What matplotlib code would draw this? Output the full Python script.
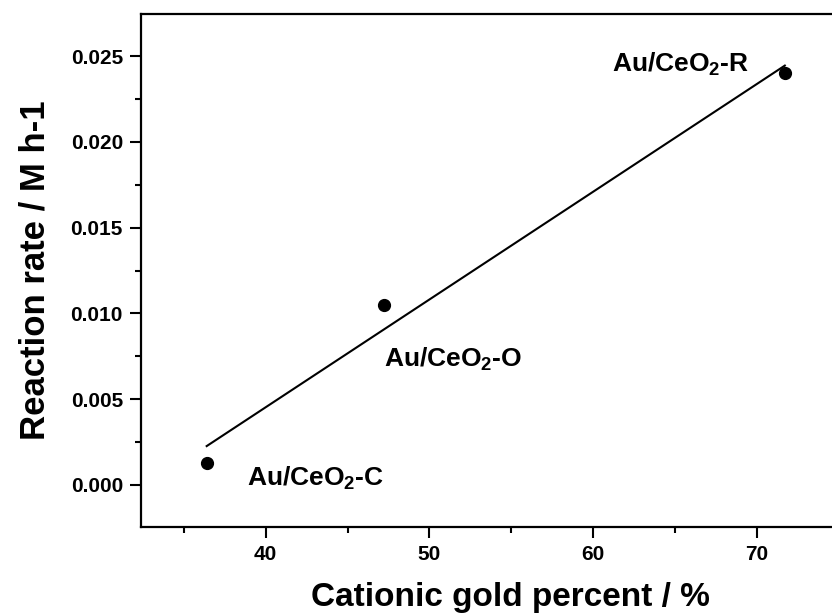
import matplotlib
matplotlib.use("Agg")
import matplotlib.pyplot as plt
import numpy as np
from matplotlib.ticker import MultipleLocator, FormatStrFormatter
from matplotlib import font_manager

names = {f.name for f in font_manager.fontManager.ttflist}
fam = 'Liberation Sans Narrow' if 'Liberation Sans Narrow' in names else 'Liberation Sans'
plt.rcParams['font.family'] = [fam, 'DejaVu Sans']
plt.rcParams['font.weight'] = 'bold'
plt.rcParams['mathtext.fontset'] = 'custom'
plt.rcParams['mathtext.rm'] = f'{fam}:bold'
plt.rcParams['mathtext.bf'] = f'{fam}:bold'
plt.rcParams['mathtext.it'] = f'{fam}:bold'
plt.rcParams['mathtext.default'] = 'bf'

# Data
samples = ['Au/CeO$_2$-C', 'Au/CeO$_2$-O', 'Au/CeO$_2$-R']
cationic_pct = [36.4, 47.2, 71.7]
rate = [0.00126, 0.0105, 0.0240]
label_x = [38.84, 47.25, 61.12]
label_y = [-0.00006, 0.00688, 0.02408]

fig = plt.figure(figsize=(8.32, 6.16), dpi=100)
ax = fig.add_axes([141/832, 89/616, (879-141)/832, (527-14)/616])

ax.plot(cationic_pct, rate, 'o', color='black', markersize=8.5)
coef = np.polyfit(cationic_pct, rate, 1)
xf = np.array([min(cationic_pct), max(cationic_pct)])
ax.plot(xf, np.polyval(coef, xf), '-', color='black', lw=1.5)

for s, lx, ly in zip(samples, label_x, label_y):
    ax.text(lx, ly, s, fontsize=19, fontweight='bold', ha='left', va='baseline')

ax.set_xlim(32.39, 77.45)
ax.set_ylim(-0.00245, 0.02745)
ax.xaxis.set_major_locator(MultipleLocator(10))
ax.xaxis.set_minor_locator(MultipleLocator(5))
ax.yaxis.set_major_locator(MultipleLocator(0.005))
ax.yaxis.set_minor_locator(MultipleLocator(0.0025))
ax.yaxis.set_major_formatter(FormatStrFormatter('%.3f'))

for sp in ax.spines.values():
    sp.set_linewidth(1.6)
ax.spines['right'].set_visible(False)
ax.tick_params(which='major', direction='out', length=8, width=1.5, labelsize=15, pad=5)
ax.tick_params(which='minor', direction='out', length=4, width=1.5)
for lab in ax.get_xticklabels() + ax.get_yticklabels():
    lab.set_fontweight('bold')

ax.set_xlabel('Cationic gold percent / %', fontsize=24, fontweight='bold', labelpad=13)
ax.set_ylabel('Reaction rate / M h-1', fontsize=25, fontweight='bold', labelpad=14)

fig.savefig('out.png', dpi=100)
